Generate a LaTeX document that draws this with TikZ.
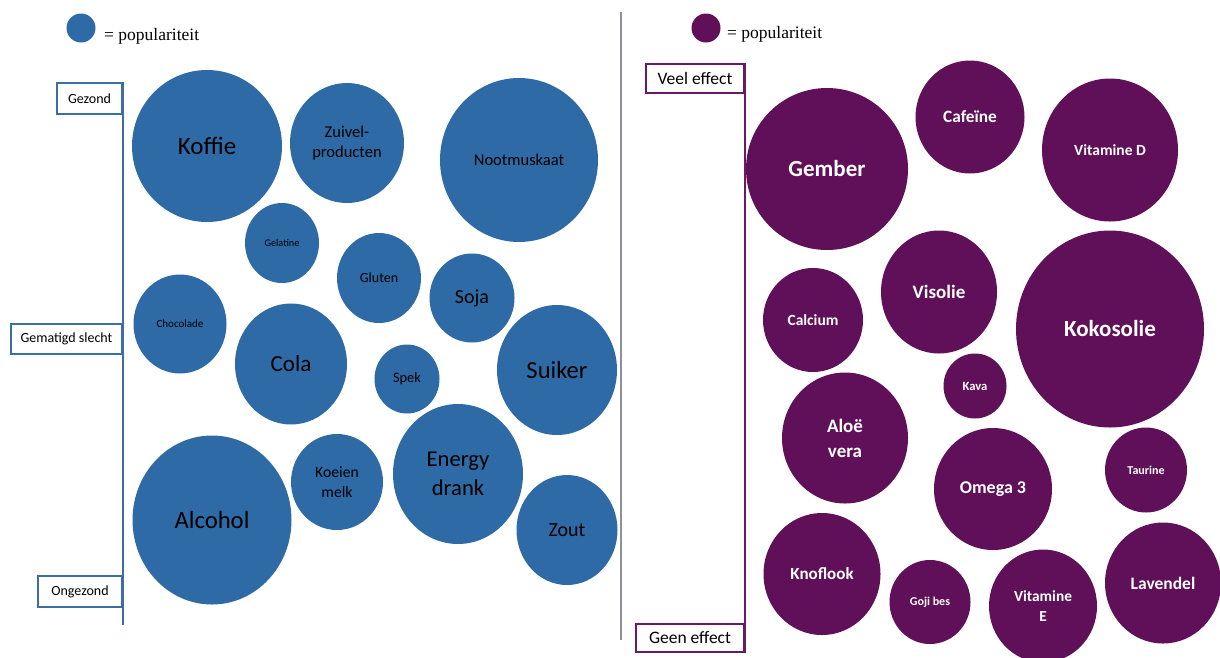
\documentclass[tikz,border=0pt]{standalone}
\usepackage{fontspec}
\setmainfont{Liberation Serif}
\newfontfamily\calfont{Carlito}
\usepackage{xcolor}
\usepackage{tikz}
\usetikzlibrary{shapes.geometric,positioning}
\definecolor{popblauw}{HTML}{2E6AA5}
\definecolor{poppaars}{HTML}{5F1058}
\definecolor{lijnblauw}{HTML}{3B6EA5}
\definecolor{lijnpaars}{HTML}{6A1A64}
\definecolor{deelgrijs}{HTML}{8F8F99}
\newcommand{\bubsize}[2]{\calfont\fontsize{#1}{#2}\selectfont}

\begin{document}
\begin{tikzpicture}[x=1pt,y=-1pt,
		bub/.style 2 args={ellipse,inner sep=0pt,minimum width=#1pt,minimum height=#2pt,align=center},
		blauw/.style={fill=popblauw,text=black},
		paars/.style={fill=poppaars,text=white,font=\bfseries},
		asblauw/.style={draw=lijnblauw,line width=2pt,fill=white,inner sep=0pt,font=\bubsize{14}{17}},
		aspaars/.style={draw=lijnpaars,line width=2pt,fill=white,inner sep=0pt,font=\bubsize{17.5}{20}},
		legtekst/.style={anchor=base west,inner sep=0pt,font=\fontsize{17.5}{20}\selectfont}]
		\useasboundingbox (0,0) rectangle (1220,657);

		\node[circle,fill=popblauw,minimum size=29pt,inner sep=0pt] (legblauw) at (81,28) {};
		\node[legtekst] (legblauwtekst) at (104,40) {= populariteit};
		\node[circle,fill=poppaars,minimum size=29pt,inner sep=0pt] (legpaars) at (706,28) {};
		\node[legtekst] (legpaarstekst) at (727,38) {= populariteit};

		\coordinate (deelboven) at (621,12);
		\coordinate (deelonder) at (621,640);
		\draw[deelgrijs,line width=1.5pt] (deelboven) -- (deelonder);

		\node[asblauw,minimum width=65pt,minimum height=31pt,anchor=north east] (gezond) at (123,82) {Gezond};
		\node[asblauw,minimum width=111pt,minimum height=30pt,anchor=north east] (gematigd) at (123,323) {Gematigd slecht};
		\node[asblauw,minimum width=84pt,minimum height=31pt,anchor=north east] (ongezond) at (123,575) {Ongezond};
		\coordinate (aseind) at (123,625);
		\draw[lijnblauw,line width=2pt] (gezond.north east) -- (aseind);

		\node[aspaars,minimum width=98pt,minimum height=29pt,anchor=north east] (veel) at (745,63) {Veel effect};
		\node[aspaars,minimum width=108pt,minimum height=28pt,anchor=south east] (geen) at (745,653) {Geen effect};
		\draw[lijnpaars,line width=2pt] (veel.north east) -- (geen.south east);

		\node[blauw,bub={150}{152},font=\bubsize{25}{28}] (koffie) at (207,146) {Koffie};
		\node[blauw,bub={114}{120},font=\bubsize{16.5}{20}] (zuivel) at (347,143) {Zuivel-\\producten};
		\node[blauw,bub={158}{164},font=\bubsize{16.5}{20}] (noot) at (519,160) {Nootmuskaat};
		\node[blauw,bub={74}{80},font=\bubsize{10.2}{12}] (gelatine) at (282,243) {Gelatine};
		\node[blauw,bub={84}{90},font=\bubsize{14}{17}] (gluten) at (379,278) {Gluten};
		\node[blauw,bub={85}{89},font=\bubsize{20}{24}] (soja) at (472,298) {Soja};
		\node[blauw,bub={93}{99},font=\bubsize{11}{13}] (choco) at (180,324) {Chocolade};
		\node[blauw,bub={112}{121},font=\bubsize{23}{27}] (cola) at (291,364) {Cola};
		\node[blauw,bub={65}{69},font=\bubsize{14.4}{17}] (spek) at (407,379) {Spek};
		\node[blauw,bub={120}{130},font=\bubsize{24.6}{28}] (suiker) at (557,370) {Suiker};
		\node[blauw,bub={130}{140},font=\bubsize{22.6}{29}] (energy) at (458,474) {Energy\\drank};
		\node[blauw,bub={92}{96},font=\bubsize{15.7}{20}] (koeien) at (337,482) {Koeien\\melk};
		\node[blauw,bub={159}{169},font=\bubsize{24.7}{28}] (alcohol) at (212,520) {Alcohol};
		\node[blauw,bub={101}{110},font=\bubsize{20}{24}] (zout) at (567,530) {Zout};

		\node[paars,bub={162}{162},font=\bubsize{23}{27}\bfseries] (gember) at (827,169) {Gember};
		\node[paars,bub={109}{113},font=\bubsize{17.3}{20}\bfseries] (cafeine) at (970,117) {Cafeïne};
		\node[paars,bub={136}{143},font=\bubsize{15.5}{18}\bfseries] (vitd) at (1110,150) {Vitamine D};
		\node[paars,bub={116}{123},font=\bubsize{19}{22}\bfseries] (visolie) at (939,292) {Visolie};
		\node[paars,bub={100}{104},font=\bubsize{15.5}{18}\bfseries] (calcium) at (813,320) {Calcium};
		\node[paars,bub={188}{197},font=\bubsize{23}{27}\bfseries] (kokos) at (1110,329) {Kokosolie};
		\node[paars,bub={63}{65},font=\bubsize{12.6}{15}\bfseries] (kava) at (975,386) {Kava};
		\node[paars,bub={126}{131},font=\bubsize{19}{25}\bfseries] (aloe) at (845,438) {Aloë\\vera};
		\node[paars,bub={118}{122},font=\bubsize{18}{21}\bfseries] (omega) at (993,489) {Omega 3};
		\node[paars,bub={82}{85},font=\bubsize{12}{14}\bfseries] (taurine) at (1146,470) {Taurine};
		\node[paars,bub={117}{122},font=\bubsize{17}{20}\bfseries] (knoflook) at (822,574) {Knoflook};
		\node[paars,bub={81}{84},font=\bubsize{12}{14}\bfseries] (goji) at (930,602) {Goji bes};
		\node[paars,bub={108}{113},font=\bubsize{15.4}{20}\bfseries] (vite) at (1043,606) {Vitamine\\E};
		\node[paars,bub={116}{121},font=\bubsize{17.5}{20}\bfseries] (lavendel) at (1163,583) {Lavendel};
\end{tikzpicture}
\end{document}
